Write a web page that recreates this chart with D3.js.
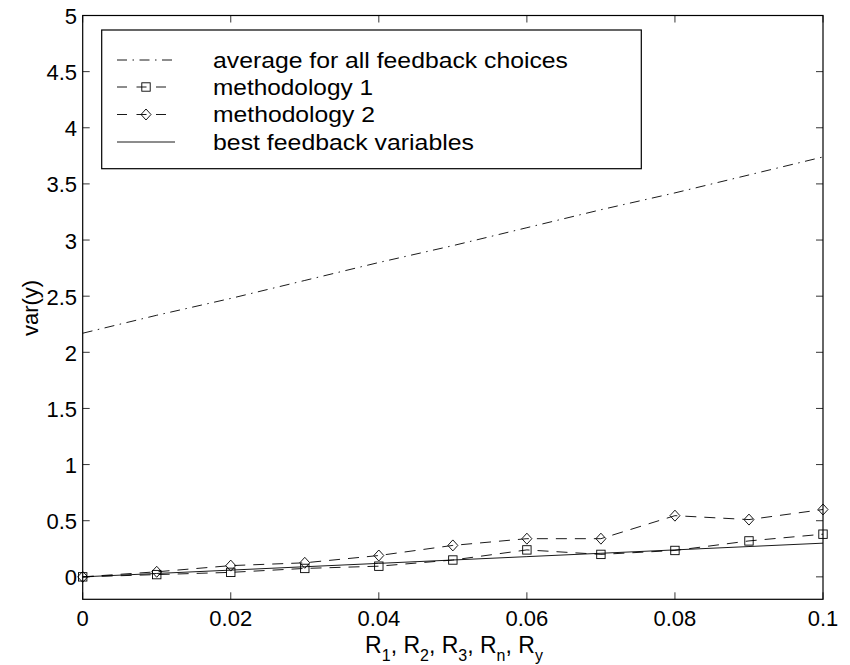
<!DOCTYPE html>
<html><head><meta charset="utf-8">
<script src="https://cdn.jsdelivr.net/npm/d3@7"></script>
<style>body{margin:0;background:#fff}svg{display:block}text{font-family:"Liberation Sans",Arial,sans-serif;fill:#000}</style>
</head><body><svg id="c" width="850" height="665"></svg>
<script>
const xValues = [0,0.01,0.02,0.03,0.04,0.05,0.06,0.07,0.08,0.09,0.1];
const avgAll = [2.17,2.33,2.48,2.64,2.80,2.95,3.11,3.27,3.42,3.58,3.74];
const meth1 = [0,0.02,0.04,0.075,0.095,0.15,0.24,0.2,0.235,0.32,0.38];
const meth2 = [0,0.045,0.1,0.125,0.19,0.28,0.34,0.34,0.545,0.51,0.6];
const best = [0,0.03,0.06,0.09,0.12,0.15,0.18,0.21,0.24,0.27,0.30];
const xTicks = [0,0.02,0.04,0.06,0.08,0.1];
const xTickLabels = ["0","0.02","0.04","0.06","0.08","0.1"];
const yTicks = [0,0.5,1,1.5,2,2.5,3,3.5,4,4.5,5];
const yTickLabels = ["0","0.5","1","1.5","2","2.5","3","3.5","4","4.5","5"];
const legendLabels = ["average for all feedback choices","methodology 1","methodology 2","best feedback variables"];

const svg = d3.select("#c");
const L=82.7,R=823,T=15.5,B=599.3;
const x = d3.scaleLinear().domain([0,0.1]).range([L,R]);
const y = d3.scaleLinear().domain([-0.2,5]).range([B,T]);
const fs = 22;

const tl=7;
const g = svg.append("g");
xTicks.forEach(v=>{
  g.append("line").attr("x1",x(v)).attr("x2",x(v)).attr("y1",B).attr("y2",B-tl).attr("stroke","#000").attr("stroke-width",0.8);
  g.append("line").attr("x1",x(v)).attr("x2",x(v)).attr("y1",T).attr("y2",T+tl).attr("stroke","#000").attr("stroke-width",0.8);
});
yTicks.forEach(v=>{
  g.append("line").attr("x1",L).attr("x2",L+tl).attr("y1",y(v)).attr("y2",y(v)).attr("stroke","#000").attr("stroke-width",0.8);
  g.append("line").attr("x1",R).attr("x2",R-tl).attr("y1",y(v)).attr("y2",y(v)).attr("stroke","#000").attr("stroke-width",0.8);
});
g.append("rect").attr("x",L).attr("y",T).attr("width",R-L).attr("height",B-T).attr("fill","none").attr("stroke","#000").attr("stroke-width",1.2);

xTicks.forEach((v,i)=>{
  svg.append("text").attr("x",x(v)).attr("y",626).attr("text-anchor","middle").attr("font-size",fs).text(xTickLabels[i]);
});
yTicks.forEach((v,i)=>{
  svg.append("text").attr("x",77).attr("y",y(v)+8.5).attr("text-anchor","end").attr("font-size",fs).text(yTickLabels[i]);
});

// x label with subscripts
const xl = svg.append("text").attr("x",454).attr("y",653).attr("text-anchor","middle").attr("font-size",23);
[["R","1"],["R","2"],["R","3"],["R","n"],["R","y"]].forEach((p,i)=>{
  xl.append("tspan").attr("dy", i===0?0:-8).text((i===0?"":", ")+p[0]);
  xl.append("tspan").attr("dy",8).attr("font-size",16).text(p[1]);
});
svg.append("text").attr("transform","translate(37.5,308) rotate(-90)").attr("text-anchor","middle").attr("font-size",fs).text("var(y)");

const plot = svg.append("g");
const line = d3.line().x((d,i)=>x(xValues[i])).y(d=>y(d));
const styles = [
  {data:avgAll, dash:"10,5.5,1.5,5.5", marker:null},
  {data:meth1, dash:"11,8", marker:"square"},
  {data:meth2, dash:"11,8", marker:"diamond"},
  {data:best, dash:null, marker:null}
];
function drawMarker(sel,type,cx,cy){
  if(type==="square") sel.append("rect").attr("x",cx-4.2).attr("y",cy-4.2).attr("width",8.4).attr("height",8.4).attr("fill","none").attr("stroke","#000").attr("stroke-width",0.9);
  if(type==="diamond") sel.append("path").attr("d",`M${cx},${cy-5.5}L${cx+5},${cy}L${cx},${cy+5.5}L${cx-5},${cy}Z`).attr("fill","none").attr("stroke","#000").attr("stroke-width",0.9);
}
styles.forEach(s=>{
  const p = plot.append("path").datum(s.data).attr("d",line).attr("fill","none").attr("stroke","#000").attr("stroke-width",0.9);
  if(s.dash) p.attr("stroke-dasharray",s.dash);
  if(s.marker) s.data.forEach((d,i)=>drawMarker(plot,s.marker,x(xValues[i]),y(d)));
});

// legend
const lg = svg.append("g");
lg.append("rect").attr("x",101.7).attr("y",30).attr("width",539.6).attr("height",138.7).attr("fill","#fff").attr("stroke","#000").attr("stroke-width",1.2);
const rowY=[60,87,114.5,142];
const textLen=[355,160,162,261];
styles.forEach((s,i)=>{
  const ln = lg.append("line").attr("x1",117).attr("x2",175).attr("y1",rowY[i]).attr("y2",rowY[i]).attr("stroke","#000").attr("stroke-width",0.9);
  if(s.dash) ln.attr("stroke-dasharray", s.marker? "10,9.5" : "10,5.5,1.5,5.5");
  if(s.marker) drawMarker(lg,s.marker,146,rowY[i]);
  lg.append("text").attr("x",213).attr("y",rowY[i]+7.5).attr("font-size",fs)
    .attr("textLength",textLen[i]).attr("lengthAdjust","spacingAndGlyphs").text(legendLabels[i]);
});
</script></body></html>
